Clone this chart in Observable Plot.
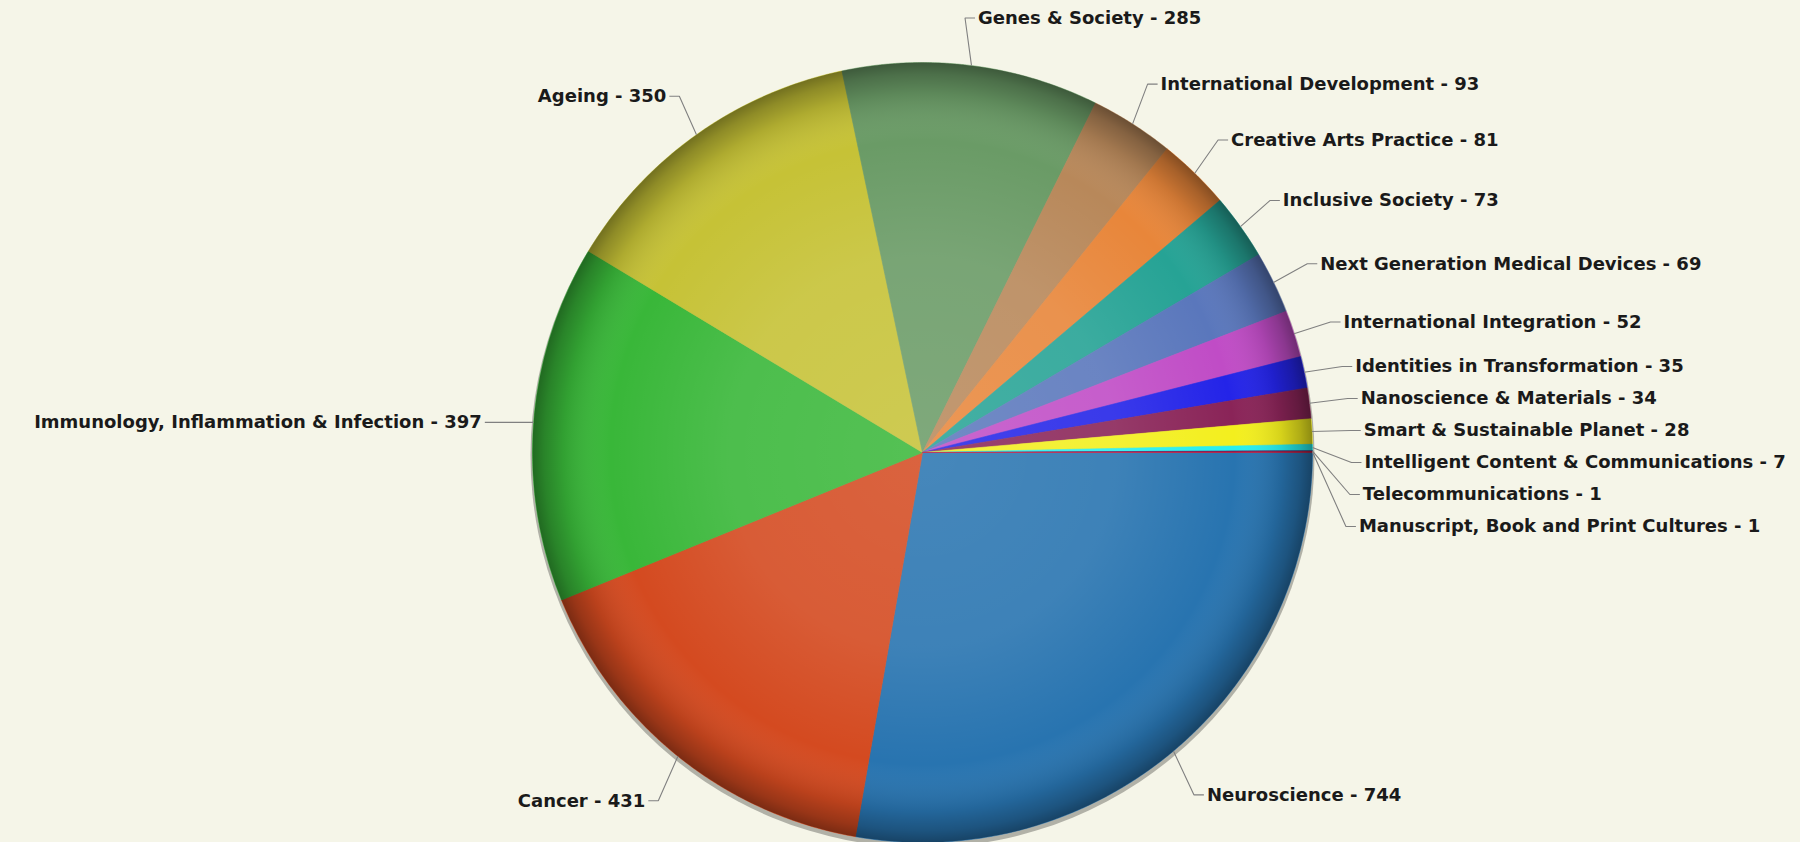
<!DOCTYPE html>
<html>
<head>
<meta charset="utf-8">
<script src="https://cdn.jsdelivr.net/npm/d3@7"></script>
<script src="https://cdn.jsdelivr.net/npm/@observablehq/plot@0.6"></script>
<style>
  html, body { margin: 0; padding: 0; background: #f5f5e8; }
  #chart { width: 1800px; height: 842px; }
</style>
</head>
<body>
<div id="chart"></div>
<script>
// ---- data ----
const categories = [
  "Neuroscience",
  "Cancer",
  "Immunology, Inflammation & Infection",
  "Ageing",
  "Genes & Society",
  "International Development",
  "Creative Arts Practice",
  "Inclusive Society",
  "Next Generation Medical Devices",
  "International Integration",
  "Identities in Transformation",
  "Nanoscience & Materials",
  "Smart & Sustainable Planet",
  "Intelligent Content & Communications",
  "Telecommunications",
  "Manuscript, Book and Print Cultures"
];
const values = [744, 431, 397, 350, 285, 93, 81, 73, 69, 52, 35, 34, 28, 7, 1, 1];
const sliceColors = [
  "#2874b0", "#d44a20", "#39b739", "#c6c236", "#6a9b66", "#b8885a",
  "#e8863a", "#26a395", "#5a77bc", "#c04cc6", "#2424e8", "#8a2458",
  "#f3ef1e", "#26efef", "#3a1a66", "#c8183a"
];

// ---- layout ----
const W = 1800, H = 842;
const cx = 922, cy = 452, r = 390;
const labelR = 442, slotH = 32, textShift = 4;

const total = d3.sum(values);
let acc = 0;
const slices = categories.map((name, i) => {
  const a0 = acc / total * 2 * Math.PI;
  acc += values[i];
  const a1 = acc / total * 2 * Math.PI;
  return {name, value: values[i], a0, a1, mid: (a0 + a1) / 2};
});

// slice polygons (angles clockwise from east in screen space)
const polys = [];
slices.forEach(s => {
  const n = Math.max(2, Math.ceil((s.a1 - s.a0) / (Math.PI / 720)));
  polys.push({name: s.name, x: cx, y: cy});
  for (let k = 0; k <= n; k++) {
    const a = s.a0 + (s.a1 - s.a0) * k / n;
    polys.push({name: s.name, x: cx + r * Math.cos(a), y: cy + r * Math.sin(a)});
  }
  polys.push({name: s.name, x: cx, y: cy});
});

// data label distribution (slot-based, like classic pie charts)
const labels = slices.map(s => ({
  ...s,
  right: Math.cos(s.mid) >= 0,
  ny: cy + labelR * Math.sin(s.mid)
}));
function distribute(points) {
  points.sort((a, b) => a.ny - b.ny);
  const slots = [];
  for (let p = cy - labelR; p <= cy + labelR; p += slotH) slots.push(p);
  const L = slots.length, n = points.length;
  const used = [];
  points.forEach((pt, j) => {
    let best = Infinity, idx = 0;
    slots.forEach((s, k) => {
      if (s !== null) { const d = Math.abs(s - pt.ny); if (d < best) { best = d; idx = k; } }
    });
    if (idx < j && slots[j] !== null) idx = j;
    else if (L < n - j + idx && slots[j] !== null) {
      idx = L - n + j;
      while (slots[idx] === null) idx++;
    }
    used.push({i: idx, y: slots[idx]});
    slots[idx] = null;
  });
  used.sort((a, b) => a.y - b.y);
  points.forEach((pt, j) => {
    const slot = used[j];
    let y = slot.y;
    if ((pt.ny > y && slots[slot.i + 1] !== null) || (pt.ny < y && slots[slot.i - 1] !== null)) y = pt.ny;
    pt.ly = y;
  });
}
distribute(labels.filter(d => d.right));
distribute(labels.filter(d => !d.right));
labels.forEach(d => {
  const dy = d.ly - cy;
  d.lx = cx + (d.right ? 1 : -1) * Math.sqrt(Math.max(0, labelR * labelR - dy * dy));
  d.ty = d.ly + textShift;
  d.text = `${d.name} - ${d.value}`;
});

const connectors = [];
labels.forEach(d => {
  const s = d.right ? -1 : 1;
  connectors.push({name: d.name, x: d.lx + s * 3, y: d.ty});
  connectors.push({name: d.name, x: d.lx + s * 13, y: d.ty});
  connectors.push({name: d.name, x: cx + r * Math.cos(d.mid), y: cy + r * Math.sin(d.mid)});
});

const center = [{x: cx, y: cy}];

const chart = Plot.plot({
  width: W,
  height: H,
  margin: 0,
  style: {background: "transparent", overflow: "visible"},
  x: {domain: [0, W], range: [0, W], axis: null},
  y: {domain: [0, H], range: [0, H], axis: null},
  color: {domain: categories, range: sliceColors},
  marks: [
    Plot.dot(center, {x: "x", y: d => d.y + 3, r: r + 2, fill: "#000", fillOpacity: 0.28, stroke: null, ariaLabel: "pie-shadow"}),
    Plot.line(polys, {x: "x", y: "y", z: "name", fill: "name", stroke: "name", strokeWidth: 0.6, curve: "linear"}),
    Plot.dot(center, {x: "x", y: "y", r: r, fill: "url(#pieShade)", stroke: null, ariaLabel: "pie-shade"}),
    Plot.line(connectors, {x: "x", y: "y", z: "name", stroke: "#808080", strokeWidth: 1.1, curve: "linear", strokeLinecap: "butt", strokeLinejoin: "miter"}),
    Plot.text(labels.filter(d => d.right), {x: "lx", y: "ty", text: "text", textAnchor: "start", lineAnchor: "middle",
      fontFamily: "DejaVu Sans", fontWeight: "bold", fontSize: 18, fill: "#1a1a1a"}),
    Plot.text(labels.filter(d => !d.right), {x: "lx", y: "ty", text: "text", textAnchor: "end", lineAnchor: "middle",
      fontFamily: "DejaVu Sans", fontWeight: "bold", fontSize: 18, fill: "#1a1a1a"})
  ]
});

// gradient + blur definitions
const svg = d3.select(chart);
const defs = svg.insert("defs", ":first-child");
const rg = defs.append("radialGradient").attr("id", "pieShade").attr("cx", "50%").attr("cy", "50%").attr("r", "50%");
[
  [0.00, "#ffffff", 0.14],
  [0.50, "#ffffff", 0.10],
  [0.80, "#ffffff", 0.00],
  [0.92, "#000000", 0.12],
  [0.97, "#000000", 0.28],
  [1.00, "#000000", 0.42]
].forEach(([o, c, a]) => rg.append("stop").attr("offset", o).attr("stop-color", c).attr("stop-opacity", a));
defs.append("filter").attr("id", "pieBlur").attr("x", "-20%").attr("y", "-20%").attr("width", "140%").attr("height", "140%")
  .append("feGaussianBlur").attr("stdDeviation", 5);
svg.select('g[aria-label="pie-shadow"]').attr("filter", "url(#pieBlur)");

document.getElementById("chart").appendChild(chart);
</script>
</body>
</html>
